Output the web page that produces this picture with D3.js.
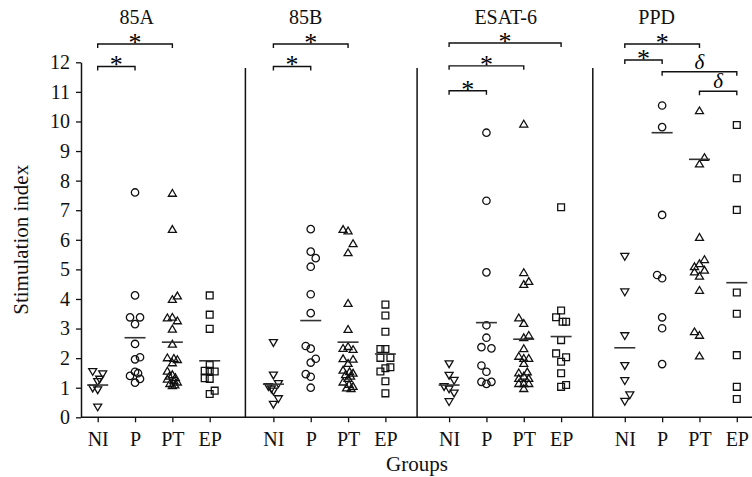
<!DOCTYPE html>
<html>
<head>
<meta charset="utf-8">
<script src="https://cdn.jsdelivr.net/npm/d3@7"></script>
<style>
  html, body { margin: 0; padding: 0; background: #fff; }
  svg { display: block; }
  text { font-family: "Liberation Serif", "Times New Roman", serif; fill: #111; }
</style>
</head>
<body>
<svg id="chart" width="752" height="477"></svg>
<script>
// ---------------- data ----------------
const panels = ["85A", "85B", "ESAT-6", "PPD"];
const groups = ["NI", "P", "PT", "EP"];
const yTicks = [0, 1, 2, 3, 4, 5, 6, 7, 8, 9, 10, 11, 12];

// points per panel: for each group, [stimulation index, jitter step]
const points85A = [
  [[1.54,-1],[1.46,1],[1.28,0.4],[1.2,0],[0.98,-1],[0.92,0],[0.34,0]],
  [[7.6,0],[4.12,0],[3.38,-1],[3.38,1],[3.15,0],[2.48,0],[2.03,1],[1.96,0],[1.54,0],[1.49,0.6],[1.40,-1],[1.30,1],[1.17,0]],
  [[7.58,0],[6.36,0],[4.11,1],[3.99,0],[3.37,-1],[3.39,0],[3.27,1],[2.99,0],[2.48,0],[2.02,-1],[2.0,0.3],[1.96,1],[1.85,0],[1.57,-1],
   [1.45,0],[1.40,-0.6],[1.35,0.6],[1.30,-1],[1.25,0.3],[1.2,1],[1.15,-0.5],[1.10,0.5],[1.08,0]],
  [[4.12,0],[3.47,0],[2.99,0],[1.77,0],[1.57,-1],[1.57,0],[1.55,1],[1.32,-1],[1.3,0],[0.9,1],[0.79,0]]
];
const points85B = [
  [[2.52,0],[1.42,0],[1.13,1],[1.03,-1],[0.95,-0.4],[0.88,0],[0.62,1],[0.43,0]],
  [[6.36,0],[5.6,0],[5.38,1],[5.09,0],[4.16,0],[3.52,0],[2.41,-1],[2.32,0],[1.98,1],[1.85,0],[1.46,-1],[1.37,0],[1.0,0]],
  [[6.36,-1],[6.31,0],[5.88,1],[5.57,0],[3.86,0],[2.98,0],[2.40,0],[2.34,-1],[2.30,1],[1.99,-1],[1.97,1],[1.83,0],
   [1.60,-1],[1.55,0.3],[1.50,1],[1.45,-0.5],[1.40,0.5],[1.32,0],[1.20,-1],[1.12,0.2],[1.05,1],[1.0,-0.3],[0.98,0.6]],
  [[3.81,0],[3.44,0],[2.89,0],[2.31,-1],[2.31,0],[2.01,-1],[2.01,1],[1.69,1],[1.66,0],[1.55,-1],[1.22,0],[0.81,0]]
];
const pointsESAT6 = [
  [[1.8,0],[1.41,0],[1.24,1],[1.03,-1],[0.95,0],[0.81,1],[0.52,0]],
  [[9.62,0],[7.32,0],[4.9,0],[3.11,0],[2.69,0],[2.37,-1],[2.33,1],[1.75,-1],[1.54,0],[1.2,-1],[1.2,1],[1.13,0]],
  [[9.92,0],[4.9,0],[4.6,1],[4.5,0],[3.37,-1],[3.18,0],[2.78,1],[2.7,0],[2.33,0],[2.07,-1],[2.0,0],[2.0,1],[1.83,0],
   [1.54,0.7],[1.51,-1],[1.4,0],[1.32,-1],[1.32,1],[1.15,-1],[1.15,0],[1.15,1],[0.98,0]],
  [[7.1,0],[3.61,0],[3.38,-1],[3.23,0.3],[3.23,1],[2.61,0],[2.16,-1],[2.03,1],[1.88,0],[1.49,0],[1.09,1],[1.03,0]]
];
const pointsPPD = [
  [[5.43,0],[4.23,0],[2.75,0],[1.74,0],[1.23,0],[0.75,1],[0.53,0]],
  [[10.54,0],[9.81,0],[6.84,0],[4.81,-1],[4.70,0],[3.38,0],[3.01,0],[1.8,0]],
  [[10.37,0],[8.79,1],[8.57,0],[6.09,0],[5.34,1],[5.2,0],[5.1,-1],[4.98,1],[4.92,-1],[4.78,0],[4.3,0],[2.9,-1],[2.78,0],[2.08,0]],
  [[9.88,0],[8.08,0],[7.01,0],[4.22,0],[3.5,0],[2.1,0],[1.03,0],[0.62,0]]
];
const pointsAll = [points85A, points85B, pointsESAT6, pointsPPD];

// horizontal summary lines drawn for each group (per panel, NI,P,PT,EP)
const meanLines = [
  [1.09, 2.69, 2.54, 1.91],
  [1.12, 3.27, 2.54, 2.14],
  [1.09, 3.20, 2.64, 2.73],
  [2.35, 9.62, 8.72, 4.55]
];

// significance brackets: panel, from group, to group, height (index units), symbol
const brackets = [
  ["85A", "NI", "P", 11.86, "*"],
  ["85A", "NI", "PT", 12.62, "*"],
  ["85B", "NI", "P", 11.86, "*"],
  ["85B", "NI", "PT", 12.62, "*"],
  ["ESAT-6", "NI", "P", 11.04, "*"],
  ["ESAT-6", "NI", "PT", 11.88, "*"],
  ["ESAT-6", "NI", "EP", 12.65, "*"],
  ["PPD", "NI", "P", 12.08, "*"],
  ["PPD", "NI", "PT", 12.62, "*"],
  ["PPD", "P", "EP", 11.68, "\u03B4"],
  ["PPD", "PT", "EP", 11.02, "\u03B4"]
];

// ---------------- layout ----------------
const svg = d3.select("#chart");
const yTop = 62.3, yBottom = 417.3;
const y = d3.scaleLinear().domain([0, 12]).range([yBottom, yTop]);
const panelX = d3.scalePoint().domain(panels).range([97.7, 97.7 + 3 * 175.7]);
const groupX = d3.scalePoint().domain(groups).range([0, 112]);
const xOf = (p, g) => panelX(p) + groupX(g);
const jitterStep = 5;
const axisLeftX = 81;
const sepDx = [null, -28, -32, -32];      // separator offset before panel
const titleDx = [39, 32.3, 56.6, 31.9];   // title offset from panel's first group

// y axis
const yAxis = d3.axisLeft(y).tickValues(yTicks).tickFormat(d3.format("d"))
  .tickSize(5).tickSizeOuter(0).tickPadding(6);
const gy = svg.append("g").attr("transform", `translate(${axisLeftX},0)`).call(yAxis);
gy.select(".domain").attr("stroke", "#111").attr("stroke-width", 1.5);
gy.selectAll(".tick line").attr("stroke", "#111").attr("stroke-width", 1.3);
gy.selectAll(".tick text").style("font-size", "20px")
  .style("font-family", '"Liberation Serif", serif').attr("fill", "#111");

// x axis baseline
svg.append("line").attr("x1", axisLeftX).attr("x2", 752)
  .attr("y1", yBottom).attr("y2", yBottom)
  .attr("stroke", "#111").attr("stroke-width", 1.5);

// per-panel group axes
panels.forEach((p, pi) => {
  const g = svg.append("g").attr("transform", `translate(${panelX(p)},${yBottom})`)
    .call(d3.axisBottom(groupX).tickSize(5).tickSizeOuter(0).tickPadding(10));
  g.select(".domain").remove();
  g.selectAll(".tick line").attr("stroke", "#111").attr("stroke-width", 1.3);
  g.selectAll(".tick text").style("font-size", "20px")
    .style("font-family", '"Liberation Serif", serif').attr("fill", "#111");

  // panel title
  svg.append("text").attr("x", panelX(p) + titleDx[pi]).attr("y", 24)
    .attr("text-anchor", "middle").style("font-size", "20px").text(p);

  // separator
  if (pi > 0) {
    svg.append("line").attr("x1", panelX(p) + sepDx[pi]).attr("x2", panelX(p) + sepDx[pi])
      .attr("y1", 68).attr("y2", yBottom)
      .attr("stroke", "#111").attr("stroke-width", 1.5);
  }
});

// axis titles
svg.append("text").attr("transform", `translate(28,${(yTop + yBottom) / 2}) rotate(-90)`)
  .attr("text-anchor", "middle").style("font-size", "21px").text("Stimulation index");
svg.append("text").attr("x", 417).attr("y", 471)
  .attr("text-anchor", "middle").style("font-size", "21px").text("Groups");

// markers
const markerPath = {
  NI: "M-4,-3.2L4,-3.2L0,3.6Z",
  PT: "M-4,3.2L4,3.2L0,-3.6Z",
  EP: "M-3.4,-3.4H3.4V3.4H-3.4Z"
};
panels.forEach((p, pi) => {
  groups.forEach((g, gi) => {
    const pts = pointsAll[pi][gi];
    const cx = xOf(p, g);
    const sel = svg.append("g").selectAll("g").data(pts).join("g")
      .attr("transform", d => `translate(${cx + d[1] * jitterStep},${y(d[0])})`);
    if (g === "P") {
      sel.append("circle").attr("r", 3.7).attr("fill", "none")
        .attr("stroke", "#111").attr("stroke-width", 1.3);
    } else {
      sel.append("path").attr("d", markerPath[g]).attr("fill", "none")
        .attr("stroke", "#111").attr("stroke-width", 1.3).attr("stroke-linejoin", "miter");
    }
    // summary line
    svg.append("line").attr("x1", cx - 10.5).attr("x2", cx + 10.5)
      .attr("y1", y(meanLines[pi][gi])).attr("y2", y(meanLines[pi][gi]))
      .attr("stroke", "#333").attr("stroke-width", 1.6);
  });
});

// brackets
brackets.forEach(([p, g1, g2, h, sym]) => {
  const x1 = xOf(p, g1), x2 = xOf(p, g2), yy = y(h);
  svg.append("path")
    .attr("d", `M${x1},${yy + 4}V${yy}H${x2}V${yy + 4}`)
    .attr("fill", "none").attr("stroke", "#111").attr("stroke-width", 1.4);
  if (sym === "*") {
    svg.append("text").attr("x", (x1 + x2) / 2).attr("y", yy + 7)
      .attr("text-anchor", "middle").attr("fill", "#000")
      .style("fill", "#000").style("font-size", "26px")
      .style("font-family", '"Liberation Serif", serif').text(sym);
  } else {
    svg.append("text").attr("x", (x1 + x2) / 2).attr("y", yy - 3)
      .attr("text-anchor", "middle").style("fill", "#000").style("font-size", "21px")
      .style("font-family", '"Liberation Serif", serif')
      .style("font-style", "italic").text(sym);
  }
});
</script>
</body>
</html>
